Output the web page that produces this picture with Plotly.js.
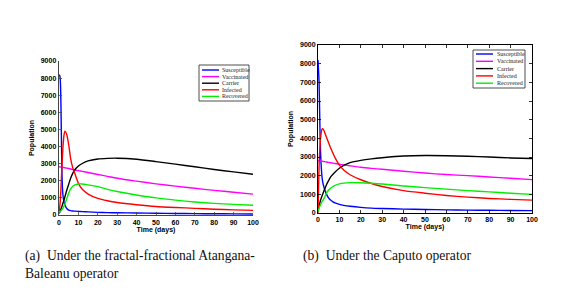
<!DOCTYPE html>
<html>
<head>
<meta charset="utf-8">
<script src="https://cdn.plot.ly/plotly-3.0.1.min.js"></script>
<style>
html,body{margin:0;padding:0;background:#fff;}
#chart{width:570px;height:290px;}
</style>
</head>
<body>
<div id="chart"></div>
<script>
// ---------- DATA ----------
const seriesNames = ["Susceptible", "Vaccinated", "Carrier", "Infected", "Recovered"];
const seriesColors = ["#0000ff", "#ff00ff", "#000000", "#ff0000", "#00ee00"];
const xTicks = [0, 10, 20, 30, 40, 50, 60, 70, 80, 90, 100];
const yTicks = [0, 1000, 2000, 3000, 4000, 5000, 6000, 7000, 8000, 9000];

const time = [0, 0.5, 1, 1.5, 2, 2.5, 3, 4, 5, 6, 7, 8, 10, 12, 15, 20, 25, 30, 40, 50, 60, 70, 80, 90, 100];

// (a) fractal-fractional Atangana-Baleanu
const susceptibleA = [8200, 8100, 6500, 2500, 1200, 800, 600, 380, 290, 255, 235, 225, 212, 200, 180, 156, 140, 130, 115, 100, 90, 80, 72, 66, 60];
const vaccinatedA  = [2820, 2810, 2800, 2790, 2780, 2770, 2760, 2740, 2720, 2690, 2660, 2630, 2590, 2550, 2480, 2370, 2260, 2150, 1980, 1820, 1690, 1560, 1440, 1330, 1220];
const carrierA     = [100, 200, 350, 500, 680, 850, 1050, 1450, 1800, 2150, 2420, 2620, 2860, 3010, 3160, 3270, 3310, 3320, 3260, 3120, 2970, 2820, 2660, 2520, 2380];
const infectedA    = [200, 600, 1500, 2800, 3900, 4600, 4900, 4700, 4100, 3300, 2800, 2480, 1850, 1500, 1220, 970, 830, 730, 600, 500, 440, 390, 340, 300, 270];
const recoveredA   = [150, 200, 250, 320, 400, 500, 620, 950, 1280, 1530, 1670, 1750, 1810, 1815, 1760, 1660, 1500, 1370, 1170, 1000, 870, 760, 680, 620, 570];

// (b) Caputo
const susceptibleB = [8200, 7000, 4000, 2500, 1800, 1500, 1300, 1000, 800, 680, 600, 540, 460, 410, 360, 300, 260, 240, 210, 190, 170, 155, 145, 135, 125];
const vaccinatedB  = [2800, 2795, 2790, 2780, 2770, 2760, 2750, 2730, 2710, 2690, 2670, 2650, 2610, 2580, 2530, 2450, 2390, 2340, 2240, 2140, 2060, 2000, 1930, 1860, 1790];
const carrierB     = [100, 350, 600, 800, 950, 1100, 1250, 1530, 1750, 1950, 2080, 2200, 2400, 2550, 2700, 2820, 2900, 2960, 3050, 3080, 3070, 3040, 3000, 2950, 2920];
const infectedB    = [0, 2500, 3700, 4300, 4520, 4480, 4350, 4050, 3750, 3450, 3200, 2950, 2560, 2300, 2050, 1780, 1580, 1420, 1200, 1060, 940, 850, 780, 730, 690];
const recoveredB   = [100, 250, 400, 520, 630, 720, 820, 1080, 1230, 1340, 1420, 1480, 1560, 1600, 1625, 1620, 1590, 1550, 1450, 1360, 1280, 1200, 1130, 1060, 1000];

const captionALines = ["(a)  Under the fractal-fractional Atangana-", "Baleanu operator"];
const captionB = "(b)  Under the Caputo operator";
const xTitle = "Time (days)";
const yTitle = "Population";

// ---------- BUILD ----------
const W = 570, H = 290;
const px = v => v / W;
const py = v => 1 - v / H;

const setA = [susceptibleA, vaccinatedA, carrierA, infectedA, recoveredA];
const setB = [susceptibleB, vaccinatedB, carrierB, infectedB, recoveredB];

const traces = [];
setA.forEach((ys, i) => traces.push({
  x: time, y: ys, type: "scatter", mode: "lines", name: seriesNames[i],
  line: {color: seriesColors[i], width: 1.4, shape: "spline", smoothing: 0.6},
  xaxis: "x", yaxis: "y", showlegend: false, hoverinfo: "skip"
}));
setB.forEach((ys, i) => traces.push({
  x: time, y: ys, type: "scatter", mode: "lines", name: seriesNames[i],
  line: {color: seriesColors[i], width: 1.4, shape: "spline", smoothing: 0.6},
  xaxis: "x2", yaxis: "y2", showlegend: false, hoverinfo: "skip"
}));

const tickFont = {family: "Liberation Sans, Arial, sans-serif", size: 7, color: "#000", weight: 600};
const titleFont = {family: "Liberation Sans, Arial, sans-serif", size: 7, color: "#000", weight: 600};

function xAxis(domain, boxed, anchor) {
  return {
    domain: domain, anchor: anchor, range: [0, 100], tickvals: xTicks,
    ticks: "inside", ticklen: 3, tickwidth: 0.8, tickcolor: boxed ? "#000" : "#444",
    showline: true, linecolor: boxed ? "#000" : "#444", linewidth: boxed ? 1 : 1.3,
    mirror: boxed ? "ticks" : false, showgrid: false, zeroline: false,
    tickfont: tickFont,
    title: {text: xTitle, font: titleFont, standoff: 1}, automargin: false
  };
}
function yAxis(domain, boxed, anchor) {
  return {
    domain: domain, anchor: anchor, range: [0, 9000], tickvals: yTicks,
    ticks: "inside", ticklen: 3, tickwidth: 0.8, tickcolor: boxed ? "#000" : "#444",
    showline: true, linecolor: boxed ? "#000" : "#444", linewidth: boxed ? 1 : 1.3,
    mirror: boxed ? "ticks" : false, showgrid: false, zeroline: false,
    tickfont: tickFont,
    title: {text: yTitle, font: titleFont, standoff: 5}, automargin: false
  };
}

const layout = {
  width: W, height: H,
  margin: {l: 0, r: 0, t: 0, b: 0},
  paper_bgcolor: "#fff", plot_bgcolor: "#fff",
  showlegend: false,
  xaxis: xAxis([px(59), px(253)], false, "y"),
  yaxis: yAxis([py(215), py(61)], false, "x"),
  xaxis2: xAxis([px(318), px(532)], true, "y2"),
  yaxis2: yAxis([py(213), py(45)], true, "x2"),
  shapes: [], annotations: []
};

// manual legends (paper coords)
function addLegend(box, lineX0, lineX1, textX, rowY) {
  layout.shapes.push({type: "rect", xref: "paper", yref: "paper",
    x0: px(box[0]), x1: px(box[1]), y0: py(box[3]), y1: py(box[2]),
    line: {color: "#222", width: 0.8}, fillcolor: "#fff", layer: "above"});
  seriesNames.forEach((name, i) => {
    const yy = rowY[0] + i * rowY[1];
    layout.shapes.push({type: "line", xref: "paper", yref: "paper",
      x0: px(lineX0), x1: px(lineX1), y0: py(yy), y1: py(yy),
      line: {color: seriesColors[i], width: 1.4}, layer: "above"});
    layout.annotations.push({xref: "paper", yref: "paper", x: px(textX), y: py(yy),
      xanchor: "left", yanchor: "middle", showarrow: false, text: name,
      font: {family: "Liberation Serif, Times New Roman, serif", size: 6, color: "#222"}});
  });
}
addLegend([199, 249, 65, 101], 202, 219, 220, [70, 6.6]);
addLegend([473, 525, 50, 88], 476, 493, 495, [54, 7.3]);

// captions
const capFont = {family: "Liberation Serif, Times New Roman, serif", size: 13.6, color: "#111"};
captionALines.forEach((t, i) => layout.annotations.push({xref: "paper", yref: "paper",
  x: px(23), y: py(256 + i * 17), xanchor: "left", yanchor: "middle", showarrow: false,
  text: t, font: capFont}));
layout.annotations.push({xref: "paper", yref: "paper", x: px(301), y: py(256),
  xanchor: "left", yanchor: "middle", showarrow: false, text: captionB, font: capFont});

Plotly.newPlot("chart", traces, layout, {staticPlot: true, displayModeBar: false});
</script>
</body>
</html>
